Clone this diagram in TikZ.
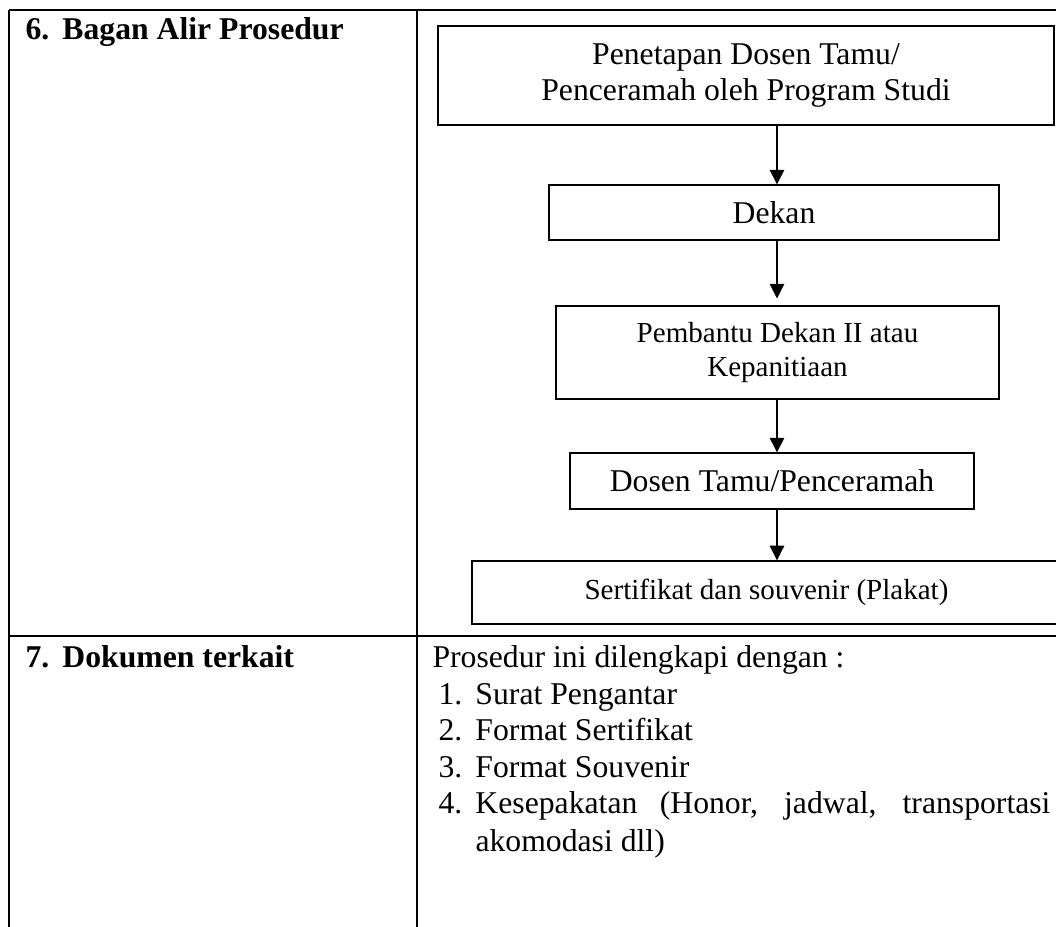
\documentclass[tikz,border=0pt]{standalone}
\usepackage{fontspec}
\setmainfont{Liberation Serif}
\usetikzlibrary{arrows.meta}
\begin{document}
\begin{tikzpicture}[x=0.3786pt,y=-0.3786pt,
  tbl/.style={line width=0.75pt},
  box/.style={draw, line width=0.5pt, inner sep=0pt, align=center},
  arr/.style={line width=0.4pt, -{Triangle[length=5.5pt,width=5.5pt]}},
  txt/.style={inner sep=0pt, anchor=base west},
  fa/.style={font=\fontsize{12}{13.8}\selectfont},
  fb/.style={font=\fontsize{11}{12.65}\selectfont},
  fh/.style={font=\bfseries\fontsize{12}{13.8}\selectfont}]
\useasboundingbox (0,0) rectangle (1056,927);
\fill[white] (0,0) rectangle (1056,927);
\clip (0,0) rectangle (1056,927);

% table frame
\draw[tbl] (9,10) -- (1056,10);
\draw[tbl] (9,10) -- (9,927);
\draw[tbl] (417,10) -- (417,927);
\draw[tbl] (9,636) -- (1056,636);

% headings
\node[txt, fh] (h6) at (25,40) {6.\hspace{5pt}Bagan Alir Prosedur};
\node[txt, fh] (h7) at (25,667) {7.\hspace{5pt}Dokumen terkait};

% flowchart
\node[box, fa, minimum width=233.2pt, minimum height=37.5pt] (b1) at (746,75.5)
  {Penetapan Dosen Tamu/\\Penceramah oleh Program Studi};
\node[box, fa, minimum width=170.4pt, minimum height=20.8pt] (b2) at (774,212.5) {Dekan};
\node[box, fb, minimum width=167.7pt, minimum height=35.2pt] (b3) at (777.5,352.5)
  {Pembantu Dekan II atau\\Kepanitiaan};
\node[box, fa, minimum width=153.0pt, minimum height=21.2pt] (b4) at (772,481) {Dosen Tamu/Penceramah};
\node[box, fb, minimum width=223.0pt, minimum height=23.9pt] (b5) at (766.5,592.5) {Sertifikat dan souvenir (Plakat)};

\coordinate (ax) at (777,0);
\draw[arr] (b1.south -| ax) -- (b2.north -| ax);
\draw[arr, shorten >=2.6pt] (b2.south -| ax) -- (b3.north -| ax);
\draw[arr] (b3.south -| ax) -- (b4.north -| ax);
\draw[arr] (b4.south -| ax) -- (b5.north -| ax);

% documents
\node[txt, fa] (p0) at (432,667) {Prosedur ini dilengkapi dengan :};
\node[txt, fa] (l1) at (438,704) {\makebox[14pt][l]{1.}Surat Pengantar};
\node[txt, fa] (l2) at (438,740) {\makebox[14pt][l]{2.}Format Sertifikat};
\node[txt, fa] (l3) at (438,777) {\makebox[14pt][l]{3.}Format Souvenir};
\node[txt, fa] (l4) at (438,813) {\makebox[14pt][l]{4.}\makebox[217.7pt][s]{Kesepakatan (Honor, jadwal, transportasi}};
\node[txt, fa] (l5) at (475,851) {akomodasi dll)};
\end{tikzpicture}
\end{document}
